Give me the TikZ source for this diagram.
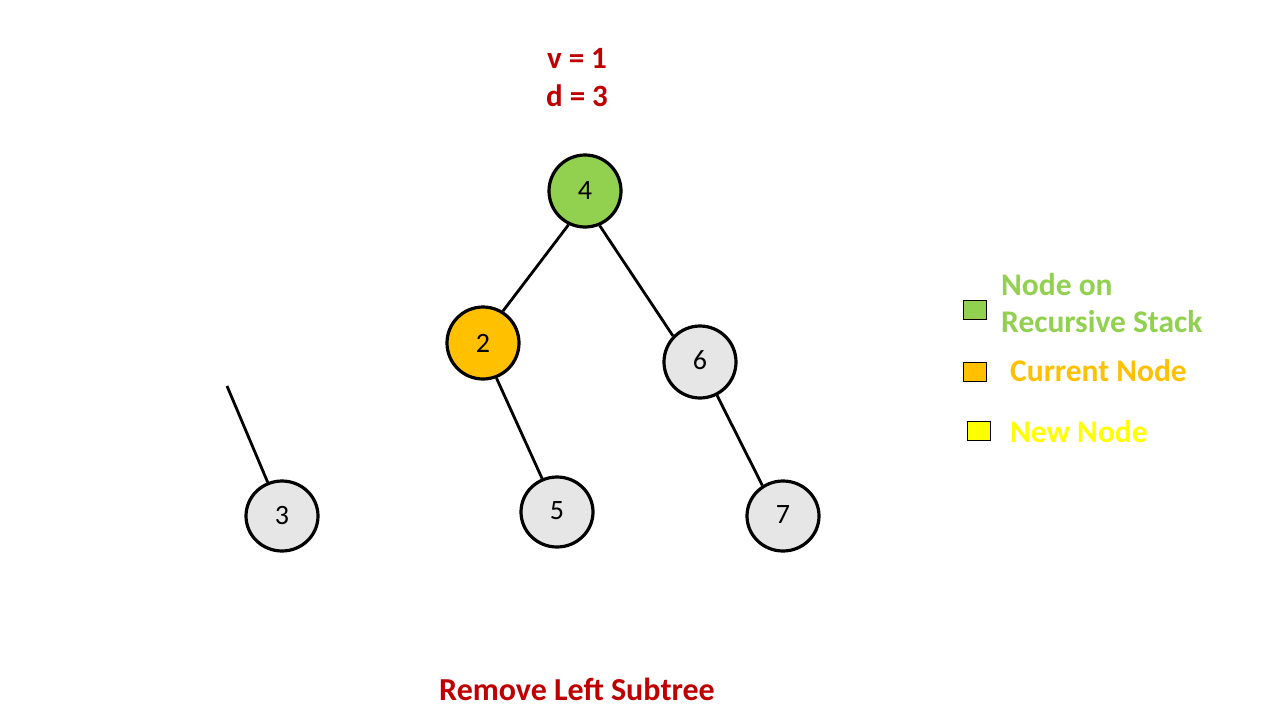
\documentclass[tikz,border=0pt]{standalone}
\usepackage{fontspec}
\setmainfont{Carlito}
\usetikzlibrary{shapes.geometric}
\definecolor{cred}{HTML}{C00000}
\definecolor{cgreen}{HTML}{92D050}
\definecolor{corange}{HTML}{FFC000}
\definecolor{cyellow}{HTML}{FFFF00}
\definecolor{cgray}{HTML}{E6E6E6}
\begin{document}
\begin{tikzpicture}[x=1pt,y=-1pt,
  tnode/.style={ellipse,draw=black,line width=3.2pt,inner sep=0pt,minimum width=72pt,minimum height=72pt,font=\fontsize{28}{30}\selectfont},
  edge/.style={line width=2.8pt,black},
  title/.style={text=cred,font=\bfseries\fontsize{31}{34}\selectfont},
  legbox/.style={draw=black,line width=1pt,minimum width=23pt,minimum height=19pt,inner sep=0pt},
  legtext/.style={font=\bfseries\fontsize{31.5}{37}\selectfont,anchor=west,inner sep=0pt,align=left}]
\useasboundingbox (0,0) rectangle (1280,720);
\fill[white] (0,0) rectangle (1280,720);
\node[title] (v) at (577,58) {v = 1};
\node[title] (d) at (577,96) {d = 3};
\node[tnode,fill=cgreen] (n4) at (585,191) {4};
\node[tnode,fill=corange] (n2) at (483,343) {2};
\node[tnode,fill=cgray] (n6) at (700,362) {\raisebox{3pt}{6}};
\node[tnode,fill=cgray,minimum height=70pt] (n3) at (282,516) {3};
\node[tnode,fill=cgray,minimum height=70pt] (n5) at (557,512) {\raisebox{3pt}{5}};
\node[tnode,fill=cgray,minimum height=70pt] (n7) at (783,516) {\raisebox{2pt}{7}};
\coordinate (free) at (227,386);
\draw[edge] (n4.244) -- (n2.58);
\draw[edge] (n4.293) -- (n6.136);
\draw[edge] (n2.291) -- (n5.114);
\draw[edge] (n6.297) -- (n7.124);
\draw[edge] (free) -- (n3.113);
\node[legbox,fill=cgreen] (l1) at (975,310) {};
\node[legbox,fill=corange] (l2) at (975,372) {};
\node[legbox,fill=cyellow] (l3) at (979,431) {};
\node[legtext,text=cgreen] (t1) at (1001,303) {Node on\\Recursive Stack};
\node[legtext,text=corange] (t2) at (1010,371) {Current Node};
\node[legtext,text=cyellow] (t3) at (1010,432) {New Node};
\node[title,font=\bfseries\fontsize{32}{34}\selectfont] (cap) at (577,689) {Remove Left Subtree};
\end{tikzpicture}
\end{document}
